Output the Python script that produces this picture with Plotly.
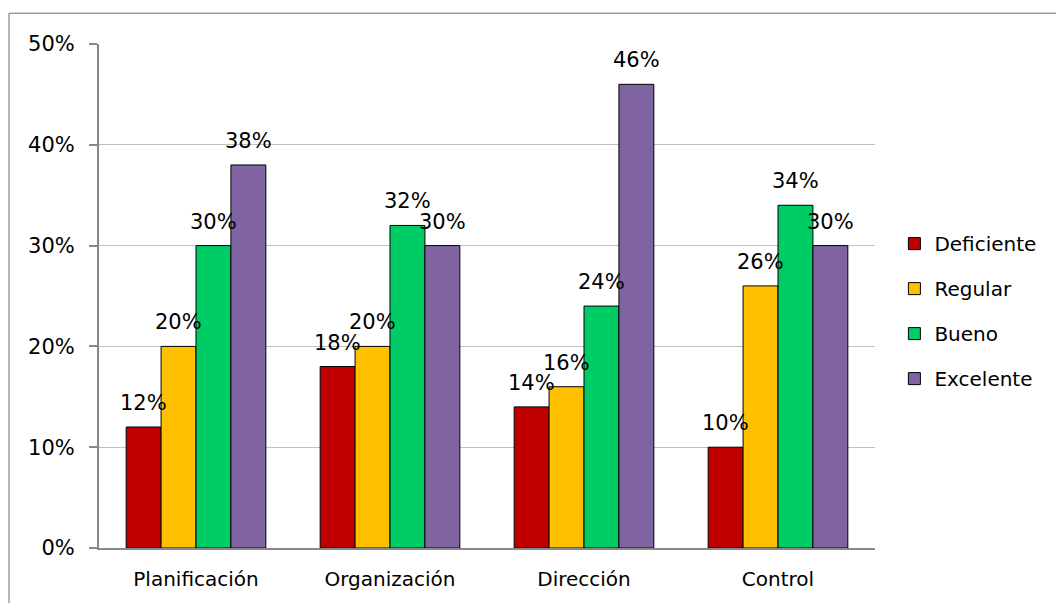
import plotly.graph_objects as go

categories = ["Planificación", "Organización", "Dirección", "Control"]
series_names = ["Deficiente", "Regular", "Bueno", "Excelente"]
deficiente = [12, 18, 14, 10]
regular = [20, 20, 16, 26]
bueno = [30, 32, 24, 34]
excelente = [38, 30, 46, 30]
y_ticks = [0, 10, 20, 30, 40, 50]
y_tick_labels = ["0%", "10%", "20%", "30%", "40%", "50%"]

series_values = [deficiente, regular, bueno, excelente]
colors = ["#C00000", "#FFC000", "#00CC66", "#8064A2"]
FONT = "DejaVu Sans"

fig = go.Figure()
for i, (name, vals, col) in enumerate(zip(series_names, series_values, colors)):
    fig.add_trace(go.Bar(
        x=categories, y=vals, name=name, legendgroup=name,
        marker=dict(color=col, line=dict(color="#000000", width=1)),
        offsetgroup=str(i),
    ))

fig.update_layout(
    barmode="group", bargap=0.28, bargroupgap=0,
    width=1056, height=603,
    margin=dict(l=99, r=181, t=44, b=51),
    paper_bgcolor="white", plot_bgcolor="white",
    font=dict(family=FONT, size=21, color="#000000"),
    showlegend=True,
    legend=dict(x=1.025, xanchor="left", y=0.47, yanchor="middle",
                font=dict(family=FONT, size=20, color="#000000"),
                tracegroupgap=16, itemwidth=30),
    yaxis=dict(range=[0, 50], tickmode="array", tickvals=y_ticks,
               ticktext=y_tick_labels,
               showgrid=True, gridcolor="#C0C0C0", gridwidth=1,
               showline=True, linecolor="#888888", linewidth=2,
               ticks="outside", ticklen=8, tickcolor="#888888", tickwidth=2,
               tickfont=dict(family=FONT, size=21, color="#000000"),
               zeroline=False, ticklabelstandoff=10),
    xaxis=dict(showline=True, linecolor="#888888", linewidth=2,
               ticks="", ticklabelstandoff=12,
               tickfont=dict(family=FONT, size=20, color="#000000")),
)

# Outer chart frame
fig.add_shape(type="rect", xref="paper", yref="paper",
              x0=(9 - 99) / 776, x1=2, y0=-1, y1=(552 - 13) / 508,
              line=dict(color="#6f6f6f", width=1), layer="below")

# Data labels
ngroups = len(series_names)
width_frac = (1 - 0.28) / ngroups
for i, vals in enumerate(series_values):
    off = (i - (ngroups - 1) / 2) * width_frac
    for j, v in enumerate(vals):
        fig.add_annotation(x=j + off, y=v, xref="x", yref="y",
                           text=f"{v}%", showarrow=False, yanchor="bottom",
                           yshift=10, font=dict(family=FONT, size=21, color="#000000"))

fig.write_html("out.html")
